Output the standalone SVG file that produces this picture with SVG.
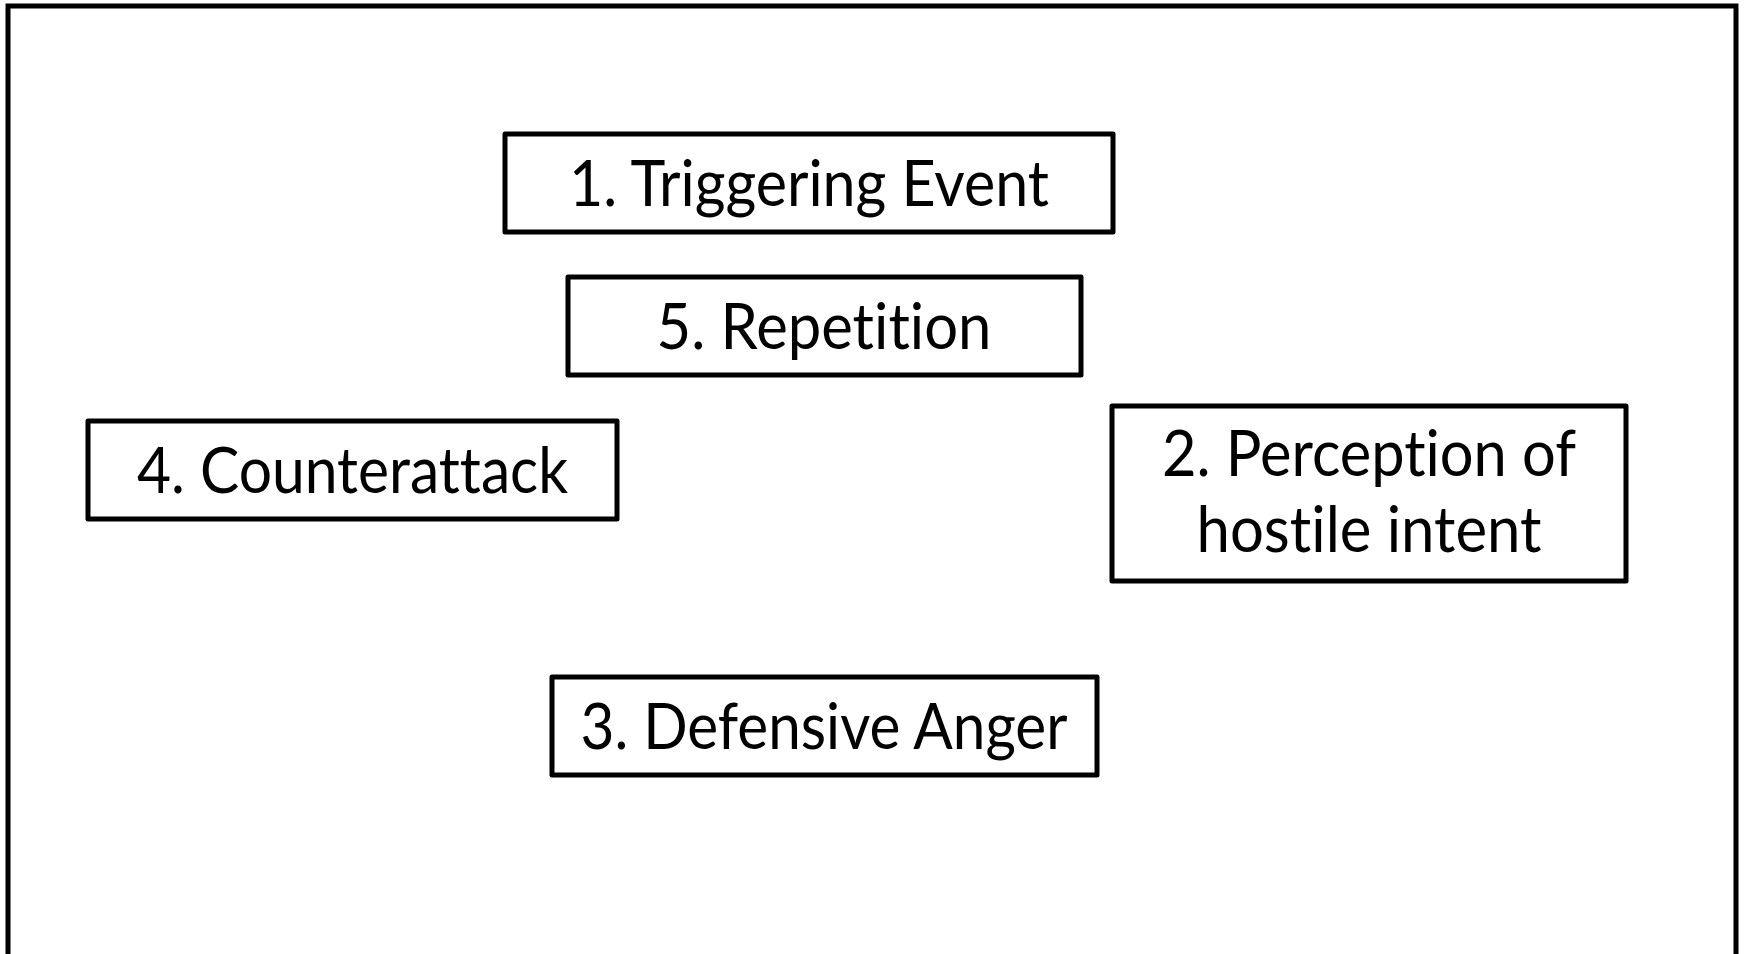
<svg xmlns="http://www.w3.org/2000/svg" width="1747" height="954" viewBox="0 0 1747 954">
<style>
.frame{fill:#fff;stroke:#000;stroke-width:5}
.box{fill:#fff;stroke:#000;stroke-width:5;stroke-linejoin:round}
.lbl{font-family:Lato,"Liberation Sans",sans-serif;font-size:63px;fill:#000;text-anchor:middle;font-variant-ligatures:none;font-feature-settings:"liga" 0}
</style>
<rect x="0" y="0" width="1747" height="954" fill="#fff"/>
<rect class="frame" x="8" y="6" width="1728" height="960"/>
<g id="connectors"></g>
<g id="node1">
<rect class="box" x="505" y="134" width="608" height="98"/>
<text class="lbl" x="809" y="206" textLength="480" lengthAdjust="spacingAndGlyphs">1. Triggering Event</text>
</g>
<g id="node5">
<rect class="box" x="568" y="277" width="513" height="98"/>
<text class="lbl" x="824" y="349" textLength="335" lengthAdjust="spacingAndGlyphs">5. Repetition</text>
</g>
<g id="node4">
<rect class="box" x="88" y="421" width="529" height="98"/>
<text class="lbl" x="352.5" y="492.5" textLength="431" lengthAdjust="spacingAndGlyphs">4. Counterattack</text>
</g>
<g id="node2">
<rect class="box" x="1112" y="406" width="514" height="175"/>
<text class="lbl" x="1369" y="476" textLength="414" lengthAdjust="spacingAndGlyphs">2. Perception of</text>
<text class="lbl" x="1369" y="551.5" textLength="345" lengthAdjust="spacingAndGlyphs">hostile intent</text>
</g>
<g id="node3">
<rect class="box" x="552" y="677" width="545" height="98"/>
<text class="lbl" x="824" y="749" textLength="487" lengthAdjust="spacingAndGlyphs">3. Defensive Anger</text>
</g>
</svg>
